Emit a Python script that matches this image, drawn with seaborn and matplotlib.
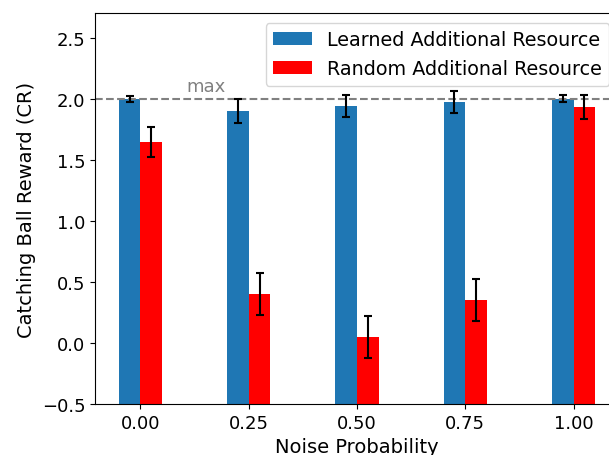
import numpy as np
import pandas as pd
import matplotlib
matplotlib.use("Agg")
import matplotlib.pyplot as plt
import seaborn as sns

NOISE = [0.00, 0.25, 0.50, 0.75, 1.00]
LEARNED_MEAN = [2.00, 1.90, 1.94, 1.97, 2.00]
LEARNED_ERR = [0.025, 0.10, 0.09, 0.09, 0.03]
RANDOM_MEAN = [1.645, 0.40, 0.05, 0.35, 1.93]
RANDOM_ERR = [0.12, 0.17, 0.17, 0.17, 0.10]
SERIES = ["Learned Additional Resource", "Random Additional Resource"]
COLORS = ["#1f77b4", "red"]
YMIN, YMAX = -0.5, 2.7


def make_plot():
    # long-form table for seaborn
    data = pd.DataFrame({
        "noise": NOISE * 2,
        "reward": LEARNED_MEAN + RANDOM_MEAN,
        "err": LEARNED_ERR + RANDOM_ERR,
        "kind": [SERIES[0]] * len(NOISE) + [SERIES[1]] * len(NOISE),
    })

    fig = plt.figure(figsize=(6.09, 4.56), dpi=100)
    ax = fig.add_axes([0.156, 0.112, 0.8604, 0.857])

    sns.barplot(data=data, x="noise", y="reward", hue="kind", hue_order=SERIES,
                palette=COLORS, native_scale=True, width=0.4, saturation=1,
                errorbar=None, ax=ax)

    # bars in the original run down to the bottom of the axes
    for cont in ax.containers:
        for bar in cont:
            top = bar.get_y() + bar.get_height()
            bar.set_y(YMIN)
            bar.set_height(top - YMIN)

    # error bars on top of the dodged bars
    half = 0.025
    for i, name in enumerate(SERIES):
        sub = data[data["kind"] == name]
        offset = -half if i == 0 else half
        ax.errorbar(np.array(sub["noise"]) + offset, sub["reward"], yerr=sub["err"],
                    fmt="none", ecolor="black", elinewidth=1.5, capsize=3, capthick=1.5,
                    zorder=3)

    # max reward reference line
    ax.axhline(2.0, color="gray", linestyle="--", linewidth=1.5, zorder=2.5)
    ax.text(0.105, 2.03, "max", color="gray", fontsize=13, va="bottom")

    ax.set_xlim(-0.105, 1.105)
    ax.set_ylim(YMIN, YMAX)
    ax.set_xticks(NOISE)
    ax.set_xticklabels([f"{v:.2f}" for v in NOISE])
    ax.set_yticks([-0.5, 0.0, 0.5, 1.0, 1.5, 2.0, 2.5])
    ax.tick_params(labelsize=13)
    ax.set_xlabel("Noise Probability", fontsize=14)
    ax.set_ylabel("Catching Ball Reward (CR)", fontsize=14)

    sns.move_legend(ax, "upper right", title=None, fontsize=13.8)

    fig.savefig("out.png", dpi=100)


if __name__ == "__main__":
    make_plot()
